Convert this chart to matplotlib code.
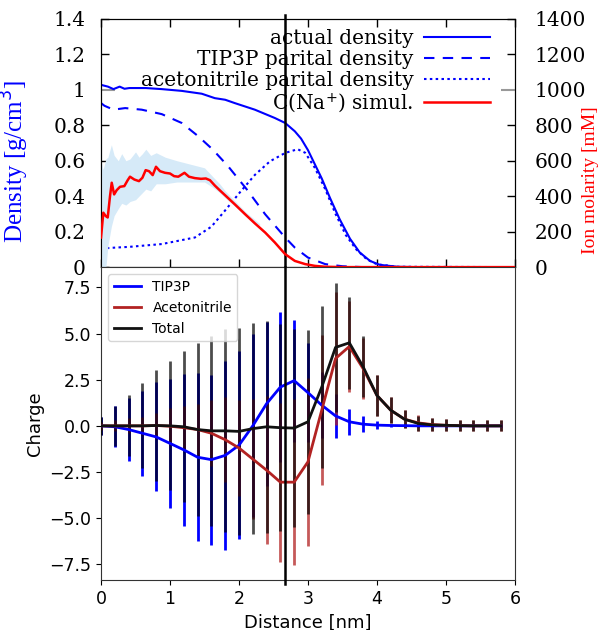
import numpy as np
import matplotlib
matplotlib.use('Agg')
import matplotlib.pyplot as plt

# top panel: density profiles (g/cm^3) vs distance (nm)
x_act = [0, 0.1, 0.18, 0.27, 0.34, 0.41, 0.65, 0.88, 1.17, 1.46, 1.65, 1.8, 1.94,
         2.23, 2.52, 2.67, 2.81, 2.9, 3.0, 3.1, 3.2, 3.32, 3.46, 3.61, 3.75, 3.9,
         4.04, 4.3, 4.6, 6.0]
act = [1.028, 1.018, 1.004, 1.018, 1.006, 1.01, 1.01, 1.004, 0.994, 0.978, 0.953,
       0.944, 0.925, 0.888, 0.841, 0.813, 0.766, 0.725, 0.66, 0.58, 0.50, 0.39,
       0.27, 0.16, 0.083, 0.035, 0.013, 0.002, 0.0, 0.0]

x_tip = [0, 0.05, 0.18, 0.35, 0.59, 0.88, 1.17, 1.41, 1.62, 1.84, 2.11, 2.38,
         2.67, 2.81, 3.0, 3.25, 3.5, 3.8, 6.0]
tip = [0.925, 0.91, 0.888, 0.897, 0.888, 0.863, 0.813, 0.738, 0.663, 0.57, 0.44,
       0.298, 0.167, 0.11, 0.054, 0.017, 0.005, 0.0, 0.0]

x_acn = [0, 0.2, 0.4, 0.88, 1.36, 1.6, 1.8, 2.01, 2.23, 2.45, 2.67, 2.85, 2.96,
         3.1, 3.25, 3.4, 3.55, 3.7, 3.85, 4.0, 4.3, 6.0]
acn = [0.105, 0.11, 0.114, 0.13, 0.167, 0.228, 0.32, 0.42, 0.52, 0.597, 0.644,
       0.665, 0.645, 0.56, 0.44, 0.30, 0.18, 0.10, 0.045, 0.016, 0.002, 0.0]

# Na+ concentration (mM)
x_na = [0, 0.033, 0.068, 0.097, 0.13, 0.155, 0.19, 0.227, 0.275, 0.338, 0.386,
        0.42, 0.483, 0.55, 0.6, 0.647, 0.696, 0.749, 0.797, 0.855, 0.928, 1.0,
        1.06, 1.12, 1.21, 1.275, 1.36, 1.45, 1.52, 1.58, 1.65, 1.72, 1.8, 1.94,
        2.09, 2.23, 2.38, 2.52, 2.67, 2.81, 2.96, 3.1, 3.25, 3.5, 6.0]
na = [167, 307, 288, 280, 400, 476, 410, 434, 453, 457, 490, 510, 494, 485, 504,
      547, 541, 519, 566, 541, 532, 528, 513, 510, 532, 510, 502, 498, 500, 490,
      460, 434, 405, 354, 298, 247, 195, 139, 73, 35, 17, 7, 2, 0, 0]

x_band = [0, 0.03, 0.07, 0.1, 0.15, 0.19, 0.25, 0.3, 0.36, 0.42, 0.5, 0.55, 0.6,
          0.65, 0.72, 0.8, 0.93, 1.1, 1.3, 1.5, 1.62, 1.72, 1.8, 1.95, 2.1, 2.3]
band_hi = [600, 550, 610, 620, 690, 630, 600, 640, 600, 610, 650, 620, 640, 665,
           630, 645, 620, 600, 580, 560, 510, 470, 430, 370, 310, 245]
band_lo = [0, 0, 0, 120, 230, 290, 330, 360, 350, 370, 380, 400, 420, 440, 430,
           470, 470, 480, 480, 480, 450, 420, 390, 340, 285, 235]

# bottom panel: charge profiles
x_q = [0.0, 0.2, 0.4, 0.6, 0.8, 1.0, 1.2, 1.4, 1.6, 1.8, 2.0, 2.2, 2.4, 2.6, 2.8,
       3.0, 3.2, 3.4, 3.6, 3.8, 4.0, 4.2, 4.4, 4.6, 4.8, 5.0, 5.2, 5.4, 5.6, 5.8]
tip_q = [0, -0.05, -0.2, -0.4, -0.6, -0.95, -1.3, -1.7, -1.83, -1.6, -1.05, 0.0,
         1.2, 2.1, 2.45, 1.8, 1.12, 0.54, 0.22, 0.09, 0.04, 0.02, 0.01, 0, 0, 0,
         0, 0, 0, 0]
tip_err = [0.5, 1.1, 1.7, 2.3, 2.95, 3.5, 4.1, 4.55, 4.6, 5.1, 5.1, 4.95, 4.45,
           4.05, 3.3, 2.7, 1.8, 1.2, 0.72, 0.42, 0.2, 0.1, 0.08, 0.05, 0.05, 0.05,
           0.05, 0.05, 0.05, 0.05]
acn_q = [0, 0, 0, 0, 0.02, -0.02, -0.1, -0.2, -0.4, -0.75, -1.2, -1.8, -2.4,
         -3.05, -3.05, -1.95, 0.85, 3.65, 4.3, 3.1, 1.65, 0.85, 0.36, 0.16, 0.07,
         0.03, 0.01, 0.0, 0.0, 0.0]
acn_err = [0.2, 0.3, 0.4, 0.5, 0.7, 1.0, 1.2, 1.4, 1.8, 2.3, 2.6, 3.25, 4.0, 4.3,
           4.5, 4.55, 4.05, 3.6, 2.45, 1.65, 1.1, 0.7, 0.5, 0.42, 0.35, 0.32, 0.3,
           0.3, 0.3, 0.3]
tot_q = [0, 0, 0, 0, 0.02, 0, -0.05, -0.2, -0.27, -0.27, -0.3, -0.15, -0.05, -0.1,
         -0.12, 0.22, 2.1, 4.25, 4.5, 3.2, 1.65, 0.85, 0.36, 0.13, 0.05, 0.03,
         0.01, 0, 0, 0]
tot_err = [0.5, 1.1, 1.65, 2.3, 3.0, 3.5, 4.1, 4.7, 5.15, 5.5, 5.6, 5.7, 5.75, 5.6,
           5.35, 5.0, 4.4, 3.5, 2.5, 1.65, 1.1, 0.7, 0.5, 0.42, 0.35, 0.32, 0.3,
           0.3, 0.3, 0.3]

x_cut = 2.67

serif = 'DejaVu Serif'
brown = '#b22222'

fig = plt.figure(figsize=(6.05, 6.3), dpi=100)
ax = fig.add_axes([0.167, 0.576, 0.684, 0.394])
ax2 = ax.twinx()
axb = fig.add_axes([0.167, 0.0794, 0.684, 0.4966])

# --- top panel
l1, = ax.plot(x_act, act, color='blue', lw=1.5, label='actual density')
l2, = ax.plot(x_tip, tip, color='blue', lw=1.5, ls=(0, (5, 4)), label='TIP3P parital density')
l3, = ax.plot(x_acn, acn, color='blue', lw=1.5, ls=(0, (1.2, 1.6)), label='acetonitrile parital density')
ax2.fill_between(x_band, band_lo, band_hi, color='#d6eaf8', lw=0, zorder=1)
l4, = ax2.plot(x_na, na, color='red', lw=1.8, label='C(Na$^{+}$) simul.', zorder=3)

ax.set_xlim(0, 6)
ax.set_ylim(0, 1.4)
ax2.set_ylim(0, 1400)
ax.set_xticks(range(7))
ax.set_xticklabels([])
ax.set_yticks([0, 0.2, 0.4, 0.6, 0.8, 1.0, 1.2, 1.4])
ax.set_yticklabels(['0', '0.2', '0.4', '0.6', '0.8', '1', '1.2', '1.4'], family=serif, fontsize=14.5)
ax2.set_yticks(range(0, 1401, 200))
ax2.set_yticklabels([str(v) for v in range(0, 1401, 200)], family=serif, fontsize=14.5)
ax.tick_params(direction='in', top=True, length=6, width=1, pad=11)
ax2.tick_params(direction='in', length=6, width=1, pad=14)
# the 1.0 / 1000 ticks are drawn grey and a bit longer in the original
for t in (ax.yaxis.get_major_ticks()[5], ax2.yaxis.get_major_ticks()[5]):
    for tl in (t.tick1line, t.tick2line):
        tl.set_markeredgecolor('#999999')
        tl.set_markersize(10)
        tl.set_markeredgewidth(1.5)
ax.set_ylabel('Density [g/cm$^3$]', color='blue', family='Liberation Serif', fontsize=18)
ax.yaxis.set_label_coords(-0.17, 0.425)
ax2.set_ylabel('Ion molarity [mM]', color='red', family='Liberation Serif', fontsize=14)
ax2.yaxis.set_label_coords(1.162, 0.35)

leg = ax2.legend([l1, l2, l3, l4], [h.get_label() for h in [l1, l2, l3, l4]],
                 loc='upper right', bbox_to_anchor=(0.96, 0.99), frameon=False,
                 markerfirst=False, prop={'family': serif, 'size': 14.5},
                 handlelength=3.3, handletextpad=0.5, labelspacing=0.08,
                 borderaxespad=0)

# --- bottom panel
axb.errorbar(x_q, tip_q, yerr=tip_err, fmt='none', ecolor='blue', elinewidth=2, zorder=2)
axb.errorbar(x_q, acn_q, yerr=acn_err, fmt='none', ecolor=brown, elinewidth=2, alpha=0.75, zorder=3)
axb.errorbar(x_q, tot_q, yerr=tot_err, fmt='none', ecolor='black', elinewidth=2, alpha=0.7, zorder=4)
axb.plot(x_q, tip_q, color='blue', lw=2, label='TIP3P', zorder=5)
axb.plot(x_q, acn_q, color=brown, lw=2, label='Acetonitrile', zorder=5)
axb.plot(x_q, tot_q, color='#111111', lw=2, label='Total', zorder=6)
axb.set_xlim(0, 6)
axb.set_ylim(-8.35, 8.6)
axb.set_yticks([-7.5, -5, -2.5, 0, 2.5, 5, 7.5])
axb.tick_params(labelsize=12.5)
axb.set_xlabel('Distance [nm]', fontsize=13)
axb.set_ylabel('Charge', fontsize=13)
axb.legend(loc='upper left', fontsize=10)
for s in axb.spines.values():
    s.set_color('#333333')

ax.axvline(x_cut, ymin=0, ymax=1.016, color='black', lw=1.8, clip_on=False, zorder=10)
axb.axvline(x_cut, ymin=-0.013, ymax=1, color='black', lw=1.8, clip_on=False, zorder=10)

fig.savefig('out.png', dpi=100)
